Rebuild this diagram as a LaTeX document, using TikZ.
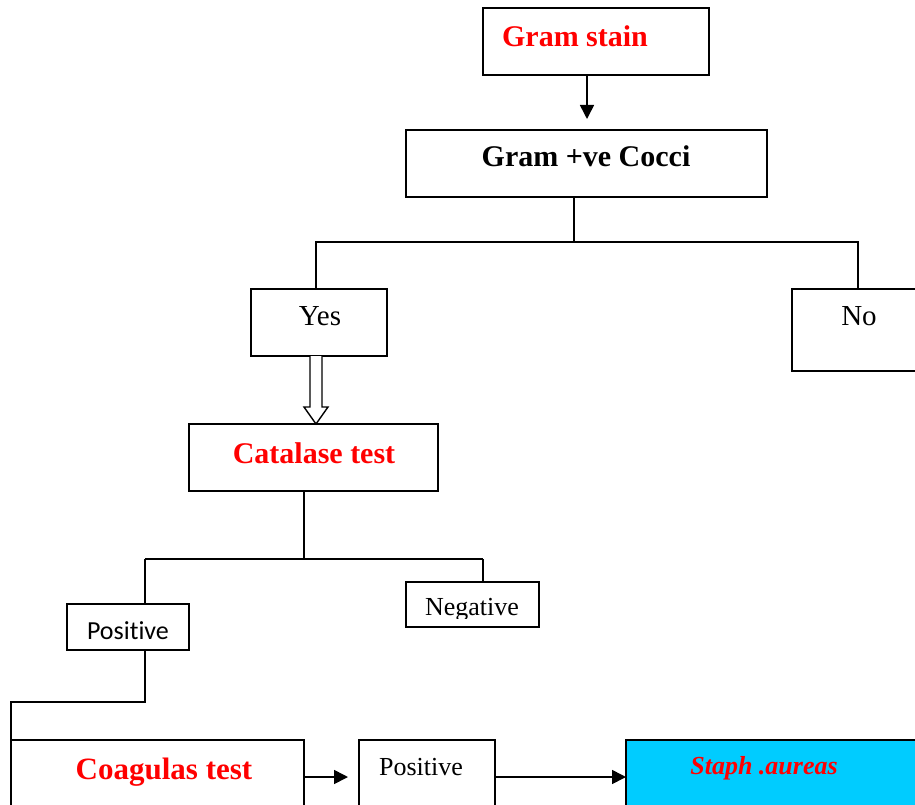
\documentclass[tikz,border=0pt]{standalone}
\usepackage{fontspec}
\setmainfont{Liberation Serif}
\newfontfamily\calib[Ligatures=NoCommon]{Carlito}
\usetikzlibrary{arrows.meta,calc}
\definecolor{boxcyan}{HTML}{00CCFF}
\definecolor{pured}{HTML}{FF0000}
\tikzset{
  box/.style={draw=black, line width=1.6pt, rectangle, inner sep=0pt, outer sep=0pt},
  conn/.style={draw=black, line width=1.6pt},
  arr/.style={conn, -{Triangle[length=14pt,width=14pt]}},
  bigred/.style={anchor=base, text=pured, font=\fontsize{30}{36}\selectfont\bfseries},
  bigblack/.style={anchor=base, text=black, font=\fontsize{30}{36}\selectfont\bfseries},
  plain/.style={anchor=base, text=black, font=\fontsize{29}{34}\selectfont},
  small/.style={anchor=base, text=black, font=\fontsize{26}{31}\selectfont},
}
\begin{document}
\begin{tikzpicture}[x=1pt,y=-1pt]
\useasboundingbox (0,0) rectangle (915,805);
\clip (0,0) rectangle (915,805);
\fill[white] (0,0) rectangle (915,805);
% boxes
\node[box, minimum width=226pt, minimum height=67pt] (gs) at (596,41.5) {};
\node[box, minimum width=361pt, minimum height=67pt] (cocci) at (586.5,163.5) {};
\node[box, minimum width=136pt, minimum height=67pt] (yes) at (319,322.5) {};
\node[box, minimum width=132pt, minimum height=82pt] (no) at (858,330) {};
\node[box, minimum width=249pt, minimum height=67pt] (cat) at (313.5,457.5) {};
\node[box, minimum width=122pt, minimum height=46pt] (pos1) at (128,627) {};
\node[box, minimum width=133pt, minimum height=45pt] (neg) at (472.5,604.5) {};
\node[box, minimum width=293pt, minimum height=80pt] (coag) at (157.5,780) {};
\node[box, minimum width=136pt, minimum height=80pt] (pos2) at (427,780) {};
\node[box, fill=boxcyan, minimum width=314pt, minimum height=80pt] (staph) at (783,780) {};
% texts
\node[bigred] (tgs) at (575,47) {Gram stain};
\node[bigblack] (tcocci) at (586,167) {Gram +ve Cocci};
\node[plain] (tyes) at (320,325) {Yes};
\node[plain] (tno) at (859,325) {No};
\node[bigred] (tcat) at (314,463) {Catalase test};
\node[small, font=\calib\fontsize{26}{31}\selectfont] (tpos1) at (128,639) {Positive};
\begin{scope}
\clip (400,570) rectangle (545,618);
\node[small] (tneg) at (472,615) {Negative};
\end{scope}
\node[bigred, font=\fontsize{31}{37}\selectfont\bfseries] (tcoag) at (164,779) {Coagulas test};
\node[small] (tpos2) at (421,775) {Positive};
\node[anchor=base, text=pured, font=\fontsize{26}{31}\selectfont\bfseries\itshape] (tstaph) at (764,774) {Staph .aureas};
% connector helpers
\coordinate (c1) at (587,0);
\coordinate (t1) at (587,119);
\coordinate (j1) at (574,242);
\coordinate (yx) at (316,0);
\coordinate (j2) at (304,559);
\coordinate (k1) at (145,559);
\coordinate (k2) at (483,559);
\coordinate (m1) at (11,702);
\coordinate (r1) at (0,777);
\coordinate (t2) at (348,777);
% connectors
\draw[arr] (gs.south -| c1) -- (t1);
\draw[conn] (cocci.south -| j1) -- (j1);
\draw[conn] (j1) -| (yes.north -| yx);
\draw[conn] (j1) -| (no.north);
% hollow arrow
\draw[line width=1.4pt, fill=white]
  ($(yes.south)+(-9,0)$) -- ($(yes.south)+(-9,51)$) -- ($(yes.south)+(-15,51)$)
  -- ($(yes.south)+(-3,68)$) -- ($(yes.south)+(9,51)$) -- ($(yes.south)+(3,51)$)
  -- ($(yes.south)+(3,0)$);
\draw[conn] (cat.south -| j2) -- (j2);
\draw[conn] (k1) -- (k2);
\draw[conn] (k1) -- (pos1.north -| k1);
\draw[conn] (k2) -- (neg.north -| k2);
\draw[conn] (pos1.south -| k1) |- (m1) -- (coag.north west);
\draw[arr] (coag.east |- r1) -- (t2);
\draw[arr] (pos2.east |- r1) -- (staph.west |- r1);
\end{tikzpicture}
\end{document}
